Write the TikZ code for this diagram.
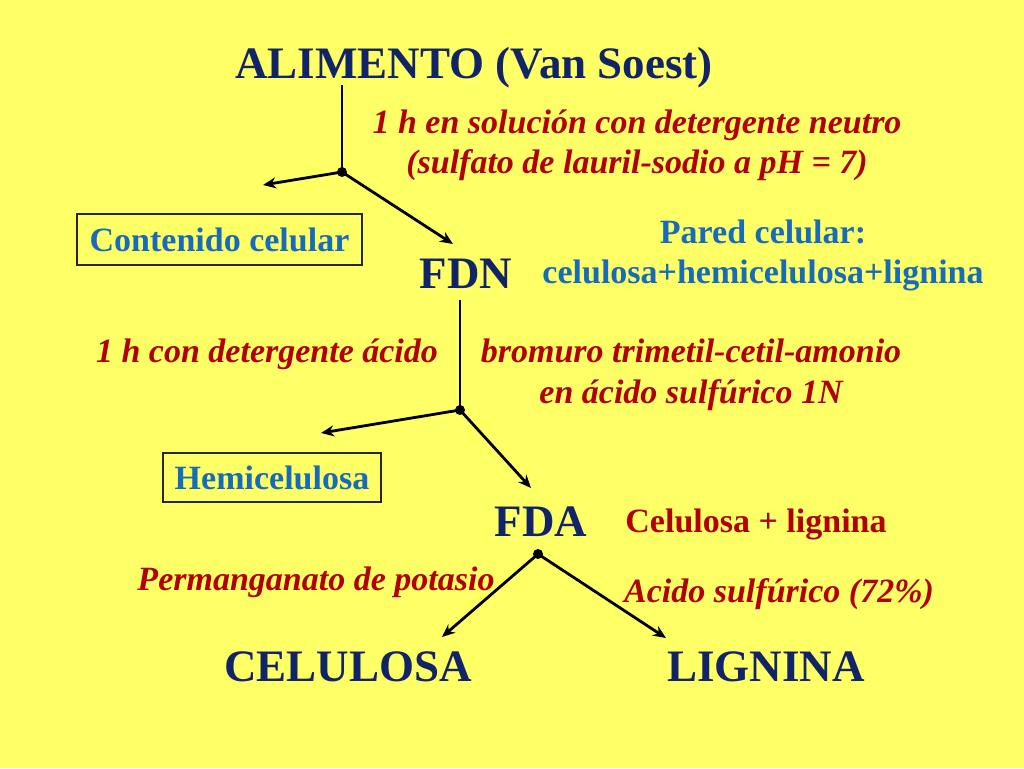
\documentclass[tikz,border=0pt]{standalone}
\usepackage{fontspec}
\setmainfont{Liberation Serif}
\usetikzlibrary{arrows.meta}
\definecolor{bgyellow}{RGB}{255,255,102}
\definecolor{navytxt}{RGB}{18,36,104}
\definecolor{bluetxt}{RGB}{22,108,186}
\definecolor{redtxt}{RGB}{176,0,0}
\tikzset{
  big/.style={anchor=base, text=navytxt, font=\fontsize{45}{50}\selectfont\bfseries, inner sep=0pt},
  note/.style={anchor=base, text=redtxt, font=\fontsize{34}{38}\selectfont\bfseries\itshape, inner sep=0pt},
  rednote/.style={anchor=base, text=redtxt, font=\fontsize{34}{38}\selectfont\bfseries, inner sep=0pt},
  bluenote/.style={anchor=base, text=bluetxt, font=\fontsize{34}{38}\selectfont\bfseries, inner sep=0pt},
  boxed/.style={draw=black!85, line width=1.2pt, text=bluetxt, font=\fontsize{34}{38}\selectfont\bfseries, inner sep=0pt},
  stem/.style={draw=black, line width=1.8pt},
  arr/.style={draw=black, line width=2.8pt, -{Stealth[length=13pt,width=11pt]}},
  dotn/.style={circle, fill=black, inner sep=0pt, minimum size=10pt}
}
\begin{document}
\begin{tikzpicture}[x=1pt,y=-1pt]
\fill[bgyellow] (0,0) rectangle (1024,768);
\useasboundingbox (0,0) rectangle (1024,768);

% texts
\node[big] (alim) at (474,78) {ALIMENTO (Van Soest)};
\node[note] (n1a) at (637,133) {1 h en solución con detergente neutro};
\node[note] (n1b) at (637,173) {(sulfato de lauril-sodio a pH = 7)};
\node[boxed, minimum width=285pt, minimum height=51pt] (cont) at (219.5,239.5) {Contenido celular};
\node[big] (fdn) at (466,288) {FDN};
\node[bluenote] (pared) at (763,243) {Pared celular:};
\node[bluenote] (pared2) at (763,283) {celulosa+hemicelulosa+lignina};
\node[note] (n2a) at (267,362) {1 h con detergente ácido};
\node[note] (n2b) at (691,362) {bromuro trimetil-cetil-amonio};
\node[note] (n2c) at (691,403) {en ácido sulfúrico 1N};
\node[boxed, minimum width=218pt, minimum height=49pt] (hemi) at (272,477.5) {Hemicelulosa};
\node[big] (fda) at (541,536) {FDA};
\node[rednote] (cl) at (756,532) {Celulosa + lignina};
\node[note] (perm) at (316,590) {Permanganato de potasio};
\node[note] (acid) at (779,602) {Acido sulfúrico (72\%)};
\node[big] (celu) at (348,681) {CELULOSA};
\node[big] (lign) at (766,681) {LIGNINA};

% connectors
\coordinate (t1) at (342,85);
\node[dotn] (d1) at (342,172) {};
\coordinate (e1) at (263,185);
\coordinate (e2) at (453,244);
\draw[stem] (t1) -- (d1.center);
\draw[arr] (d1.center) -- (e1);
\draw[arr] (d1.center) -- (e2);

\coordinate (t2) at (460,300);
\node[dotn] (d2) at (460,410) {};
\coordinate (e3) at (321,433);
\coordinate (e4) at (531,488);
\draw[stem] (t2) -- (d2.center);
\draw[arr] (d2.center) -- (e3);
\draw[arr] (d2.center) -- (e4);

\node[dotn] (d3) at (538,554) {};
\coordinate (e5) at (442,637);
\coordinate (e6) at (666,638);
\draw[arr] (d3.center) -- (e5);
\draw[arr] (d3.center) -- (e6);
\end{tikzpicture}
\end{document}
